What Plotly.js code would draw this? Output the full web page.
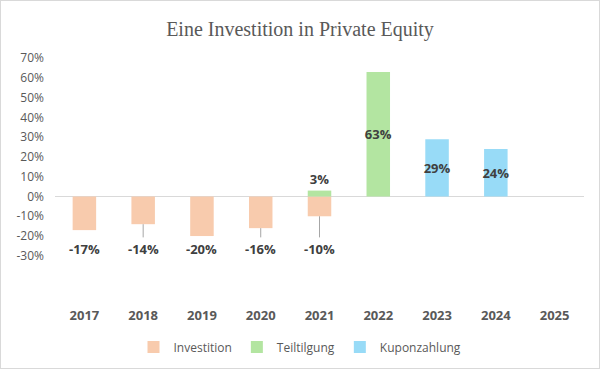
<!DOCTYPE html>
<html>
<head>
<meta charset="utf-8">
<script src="https://cdn.plot.ly/plotly-3.0.1.min.js"></script>
<style>
  html, body { margin: 0; padding: 0; background: #ffffff; }
  #wrap { width: 598px; height: 367px; border: 1px solid #d9d9d9; }
  #chart { width: 598px; height: 367px; }
</style>
</head>
<body>
<div id="wrap"><div id="chart"></div></div>
<script>
// ---- data ----
const years = ['2017', '2018', '2019', '2020', '2021', '2022', '2023', '2024', '2025'];
const investition  = [-0.17, -0.14, -0.20, -0.16, -0.10, null, null, null, null];
const teiltilgung  = [null, null, null, null, 0.03, 0.63, null, null, null];
const kuponzahlung = [null, null, null, null, null, null, 0.29, 0.24, null];
const yTicks = [-0.3, -0.2, -0.1, 0, 0.1, 0.2, 0.3, 0.4, 0.5, 0.6, 0.7];

// ---- styles ----
const cInv = '#F8CBAD', cTeil = '#B3E5A1', cKup = '#98DBF7';
const labelFont = {family: 'Open Sans', size: 13, color: '#404040', weight: 700};
const pct = v => Math.round(v * 100) + '%';

const traces = [
  {type: 'bar', name: 'Investition', x: years, y: investition,
   marker: {color: cInv}, width: 0.4, hoverinfo: 'skip'},
  {type: 'bar', name: 'Teiltilgung', x: years, y: teiltilgung,
   marker: {color: cTeil}, width: 0.4, hoverinfo: 'skip',
   text: teiltilgung.map(v => v == null ? '' : pct(v)),
   textposition: teiltilgung.map(v => (v != null && v < 0.1) ? 'outside' : 'inside'),
   insidetextanchor: 'middle', textangle: 0, constraintext: 'none', cliponaxis: false,
   textfont: labelFont, insidetextfont: labelFont, outsidetextfont: labelFont},
  {type: 'bar', name: 'Kuponzahlung', x: years, y: kuponzahlung,
   marker: {color: cKup}, width: 0.4, hoverinfo: 'skip',
   text: kuponzahlung.map(v => v == null ? '' : pct(v)),
   textposition: 'inside', insidetextanchor: 'middle', textangle: 0, constraintext: 'none',
   textfont: labelFont, insidetextfont: labelFont}
];

// Investition labels: placed on a common baseline below the bars, with leader lines when far
const labelY = -0.265;
const annotations = [];
years.forEach((yr, i) => {
  const v = investition[i];
  if (v == null) return;
  const far = (v - labelY) > 0.1;
  if (far) {
    annotations.push({x: i, y: v, xref: 'x', yref: 'y', ax: i, ay: labelY,
      axref: 'x', ayref: 'y', text: pct(v), showarrow: true, arrowhead: 0,
      arrowwidth: 1, arrowcolor: '#a6a6a6', standoff: 0, startstandoff: 0,
      font: labelFont, borderpad: 2});
  } else {
    annotations.push({x: i, y: labelY, xref: 'x', yref: 'y', text: pct(v),
      showarrow: false, font: labelFont});
  }
});

const layout = {
  width: 598, height: 367,
  margin: {l: 54, r: 15, t: 57, b: 112, autoexpand: false},
  paper_bgcolor: '#ffffff', plot_bgcolor: '#ffffff',
  barmode: 'relative',
  showlegend: true,
  title: {text: 'Eine Investition in Private Equity', x: 0.5, xanchor: 'center',
          y: 0.924, yanchor: 'middle', yref: 'container', automargin: false,
          font: {family: 'Liberation Serif', size: 20, color: '#595959'}},
  xaxis: {type: 'category', range: [-0.5, 8.5], showgrid: false, zeroline: false,
          showline: false, ticks: '', ticklabelstandoff: 50, automargin: false,
          tickfont: {family: 'Open Sans', size: 13, color: '#595959', weight: 700}},
  yaxis: {range: [-0.301, 0.701], tickvals: yTicks, ticktext: yTicks.map(pct),
          showgrid: false, zeroline: true, zerolinecolor: '#d9d9d9', zerolinewidth: 1,
          showline: false, ticks: '', ticklabelstandoff: 10, automargin: false,
          tickfont: {family: 'Open Sans', size: 12, color: '#595959'}},
  legend: {orientation: 'h', x: 0.5, xanchor: 'center', xref: 'container',
           y: 0.057, yanchor: 'middle', yref: 'container',
           font: {family: 'Open Sans', size: 12, color: '#595959'},
           itemwidth: 30, traceorder: 'normal', itemclick: false, itemdoubleclick: false},
  annotations: annotations
};

Plotly.newPlot('chart', traces, layout, {displayModeBar: false, staticPlot: true});
</script>
</body>
</html>
